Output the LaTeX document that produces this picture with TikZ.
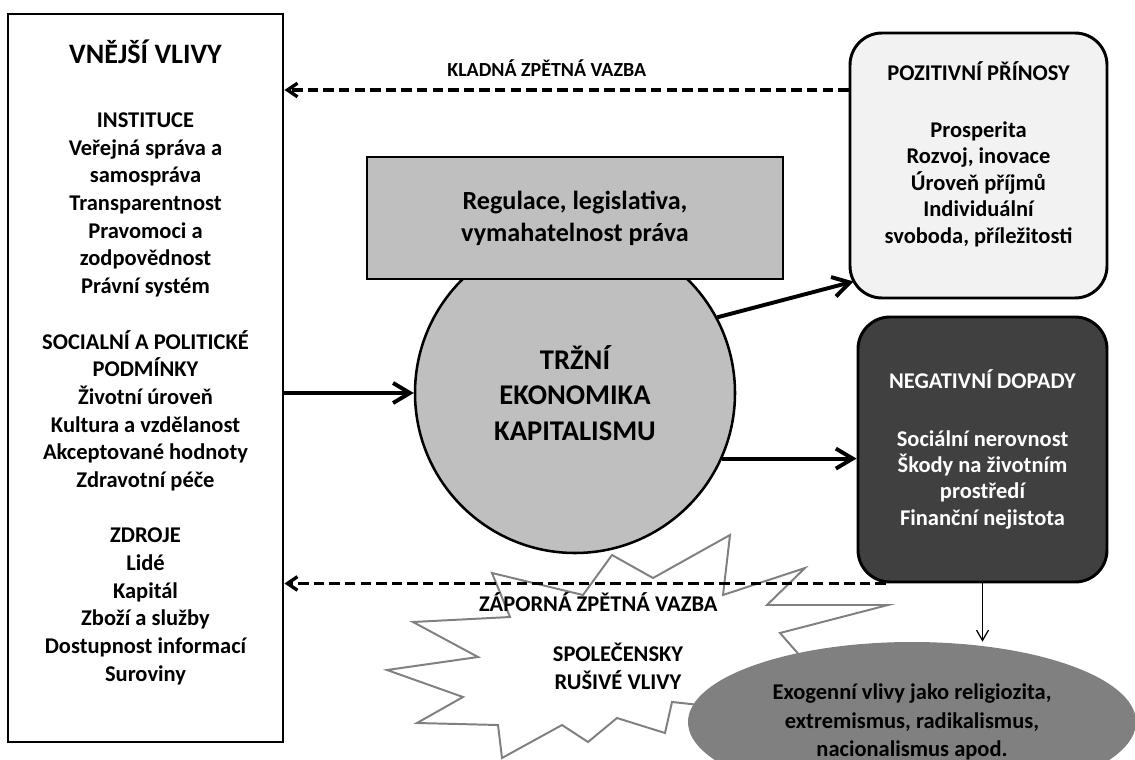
\documentclass[tikz,border=0pt]{standalone}
\usepackage{fontspec}
\setmainfont{Carlito}
\usetikzlibrary{positioning, arrows.meta, shapes.geometric}
\definecolor{svetlasediva}{HTML}{F2F2F2}
\definecolor{sediva}{HTML}{BFBFBF}
\definecolor{tmavasediva}{HTML}{404040}
\definecolor{stredni}{HTML}{808080}

\begin{document}
\begin{tikzpicture}
	\tikzstyle{vlivybox} = [draw, line width=2.1pt, minimum width=6.875cm, minimum height=18.2cm, inner sep=0]
	\tikzstyle{popis} = [align=center, inner sep=0, font=\fontsize{16}{19.7}\selectfont\bfseries]
	\tikzstyle{trh} = [circle, draw, line width=1.8pt, fill=sediva, minimum size=8cm, inner sep=0,
		align=center, font=\fontsize{20.3}{25.5}\selectfont\bfseries]
	\tikzstyle{regulace} = [rectangle, draw, line width=2.1pt, fill=sediva, minimum width=10.4cm,
		minimum height=3.05cm, inner sep=0, align=center, font=\fontsize{18.6}{22.7}\selectfont\bfseries]
	\tikzstyle{pozbox} = [rectangle, draw, rounded corners=0.8cm, line width=2.1pt, fill=svetlasediva,
		minimum width=6.425cm, minimum height=6.625cm, inner sep=0, align=center,
		font=\fontsize{16}{18.8}\selectfont\bfseries]
	\tikzstyle{negbox} = [pozbox, fill=tmavasediva, text=white, minimum width=6.225cm]
	\tikzstyle{exo} = [ellipse, fill=stredni, minimum width=11.2cm, minimum height=4cm, inner sep=0,
		align=center, font=\fontsize{16}{20.2}\selectfont\bfseries]
	\tikzstyle{burst} = [draw=stredni, line width=1.4pt, fill=white]
	\tikzstyle{zpetna} = [dash pattern=on 0.26cm off 0.13cm, line width=2.4pt,
		-{Straight Barb[length=0.25cm, width=0.34cm]}]
	\tikzstyle{tok} = [line width=2.8pt, -{Straight Barb[length=0.42cm, width=0.5cm]}]
	\tikzstyle{tenka} = [line width=0.9pt, -{Straight Barb[length=0.26cm, width=0.3cm]}]
	
	\useasboundingbox (0,0) rectangle (28.375,-19);
	\clip (0,0) rectangle (28.375,-19);
	
	\node [vlivybox] (vlivy) at (3.6375,-9.45) {};
	\node [popis, below=0.68cm of vlivy.north] (vlivytxt) {{\fontsize{20}{24}\selectfont VNĚJŠÍ VLIVY}\\[25.7pt]
		INSTITUCE\\Veřejná správa a\\samospráva\\Transparentnost\\Pravomoci a\\zodpovědnost\\Právní systém\\[19.7pt]
		SOCIALNÍ A POLITICKÉ\\PODMÍNKY\\Životní úroveň\\Kultura a vzdělanost\\Akceptované hodnoty\\Zdravotní péče\\[19.7pt]
		ZDROJE\\Lidé\\Kapitál\\Zboží a služby\\Dostupnost informací\\Suroviny};
	
	\node [trh] (trh) at (14.375,-9.825) {TRŽNÍ\\EKONOMIKA\\KAPITALISMU};
	\node [regulace] (reg) at (14.375,-5.45) {Regulace, legislativa,\\vymahatelnost práva};
	
	\node [pozbox] (pozit) at (24.4625,-4.1375) {POZITIVNÍ PŘÍNOSY\\[22pt]Prosperita\\Rozvoj, inovace\\Úroveň příjmů\\Individuální\\svoboda, příležitosti\\ \mbox{}};
	\node [negbox] (neg) at (24.5625,-11.2375) {NEGATIVNÍ DOPADY\\[22pt]Sociální nerovnost\\Škody na životním\\prostředí\\Finanční nejistota};
	
	% spolecensky rusive vlivy
	\draw [burst] (16.8,-17.55) -- (16.625,-18.325) -- (15.425,-17.95) -- (14.7,-18.55) -- (14.05,-18.125)
		-- (12.55,-18.95) -- (12.45,-18.125) -- (10.425,-18.075) -- (11.575,-17.425) -- (9.675,-16.75)
		-- (11.95,-16.425) -- (10.325,-15.55) -- (12.75,-15.425) -- (12.3,-14.325) -- (14.575,-14.875)
		-- (15.3,-13.875) -- (16.325,-14.45) -- (18.25,-13.375) -- (18.075,-14.875) -- (20.125,-14.2)
		-- (19.175,-15.125) -- (22.2,-15.125) -- (19.5,-15.825) -- (20.75,-17.25) -- (17.5,-17.625) -- cycle;
	\node [popis, font=\fontsize{16}{20.5}\selectfont\bfseries] (rusive) at (15.45,-16.66) {SPOLEČENSKY\\RUŠIVÉ VLIVY};
	
	\node [exo] (exo) at (22.8,-18.05) {Exogenní vlivy jako religiozita,\\extremismus, radikalismus,\\nacionalismus apod.};
	
	\coordinate (kladnay) at (0,-2.25);
	\coordinate (zapstart) at ([xshift=0.73cm]neg.south west);
	\draw [zpetna] (pozit.west |- kladnay) -- (vlivy.east |- kladnay)
		node [pos=0.535, above=8.5pt, inner sep=0, font=\fontsize{14.2}{17}\selectfont\bfseries] (kladna) {KLADNÁ ZPĚTNÁ VAZBA};
	\draw [zpetna] (zapstart) -- (vlivy.east |- zapstart)
		node [pos=0.478, below=5pt, inner sep=0, font=\fontsize{16}{19}\selectfont\bfseries] (zaporna) {ZÁPORNÁ ZPĚTNÁ VAZBA};
	\draw [tok] (vlivy.east |- trh.west) -- (trh.west);
	\draw [tok] (trh.28) -- ([shift={(0.125cm,0.45cm)}]pozit.south west);
	\draw [tok] (trh.-24.75) -- (neg.west |- trh.-24.75);
	\draw [tenka] (neg.south) -- (neg.south |- exo.north);
\end{tikzpicture}
\end{document}
